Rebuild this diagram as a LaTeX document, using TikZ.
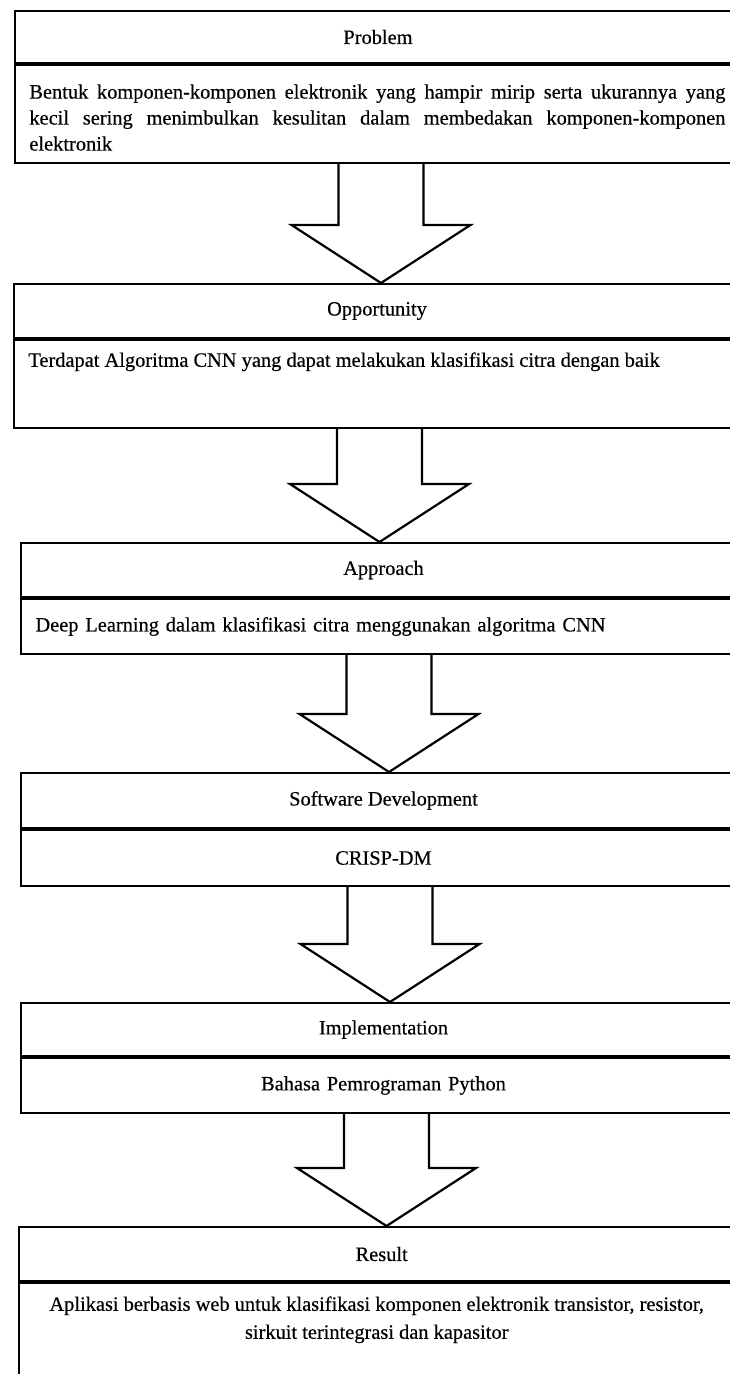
\documentclass[tikz,border=0pt]{standalone}
\usepackage{fontspec}
\setmainfont{Liberation Serif}[FakeBold=0.4]
\usetikzlibrary{positioning,calc}
\hyphenpenalty=10000
\exhyphenpenalty=10000

\tikzset{
  head/.style={draw, line width=1pt, anchor=north west, minimum width=363pt,
    minimum height=27pt, inner sep=0pt},
  body/.style={draw, line width=1pt, minimum width=363pt, inner xsep=7.5pt,
    text width=348pt},
  blk/.style={draw, line width=1.1pt, line join=miter},
}
% block arrow from the bottom of one box to the top of the next
\newcommand{\flowarrow}[3][0pt]{%
  \coordinate (s) at ($(#2.south)+(#1,0)$);
  \coordinate (t) at (s |- #3.north);
  \draw[blk] ([xshift=-21.25pt]s) -- ([xshift=-21.25pt,yshift=29pt]t)
    -- ([xshift=-44.75pt,yshift=29pt]t) -- (t)
    -- ([xshift=44.75pt,yshift=29pt]t) -- ([xshift=21.25pt,yshift=29pt]t)
    -- ([xshift=21.25pt]s);
}

\begin{document}
\begin{tikzpicture}[x=0.5pt, y=-0.5pt, font=\fontsize{10.2pt}{13pt}\selectfont]
  \useasboundingbox (0,0) rectangle (729,1374);
  % problem
  \node[head, minimum height=26pt] (prbt) at (14,10) {Problem};
  \node[body, below=0pt of prbt, minimum height=49pt] (prbb) {};
  \node[below right=10pt and 7.5pt of prbb.north west, anchor=north west, inner sep=0pt,
    text width=348pt, align=justify] (prbx)
    {Bentuk komponen-komponen elektronik yang hampir mirip serta ukurannya yang\linebreak
     kecil sering menimbulkan kesulitan dalam membedakan komponen-komponen\linebreak
     elektronik};
  % opportunity
  \node[head] (oppt) at (13,283) {Opportunity};
  \node[body, below=0pt of oppt, minimum height=44pt] (oppb) {};
  \node[below right=6.5pt and 7.5pt of oppb.north west, anchor=north west, inner sep=0pt] (oppx)
    {Terdapat Algoritma CNN yang dapat melakukan klasifikasi citra dengan baik};
  % approach
  \node[head] (appt) at (19.5,542) {Approach};
  \node[body, below=0pt of appt, minimum height=27.5pt, align=left] (appb)
    {Deep Learning dalam klasifikasi citra menggunakan algoritma CNN};
  % software development
  \node[head, minimum height=27.5pt] (swdt) at (19.5,772) {Software Development};
  \node[body, below=0pt of swdt, minimum height=28pt, align=center] (swdb) {CRISP-DM};
  % implementation
  \node[head, minimum height=26.5pt] (impt) at (19.5,1002) {Implementation};
  \node[body, below=0pt of impt, minimum height=27.5pt, align=center] (impb)
    {Bahasa Pemrograman Python};
  % result
  \node[head] (rest) at (17.7,1226) {Result};
  \node[body, below=0pt of rest, minimum height=60pt] (resb) {};
  \node[below=7pt of resb.north, xshift=-2.5pt, align=center, inner sep=0pt] (resx)
    {Aplikasi berbasis web untuk klasifikasi komponen elektronik transistor, resistor,\\[1pt]
     sirkuit terintegrasi dan kapasitor};

  \flowarrow[1.5pt]{prbb}{oppt}
  \flowarrow[1.25pt]{oppb}{appt}
  \flowarrow[2.75pt]{appb}{swdt}
  \flowarrow[3.25pt]{swdb}{impt}
  \flowarrow[1.5pt]{impb}{rest}
\end{tikzpicture}
\end{document}
